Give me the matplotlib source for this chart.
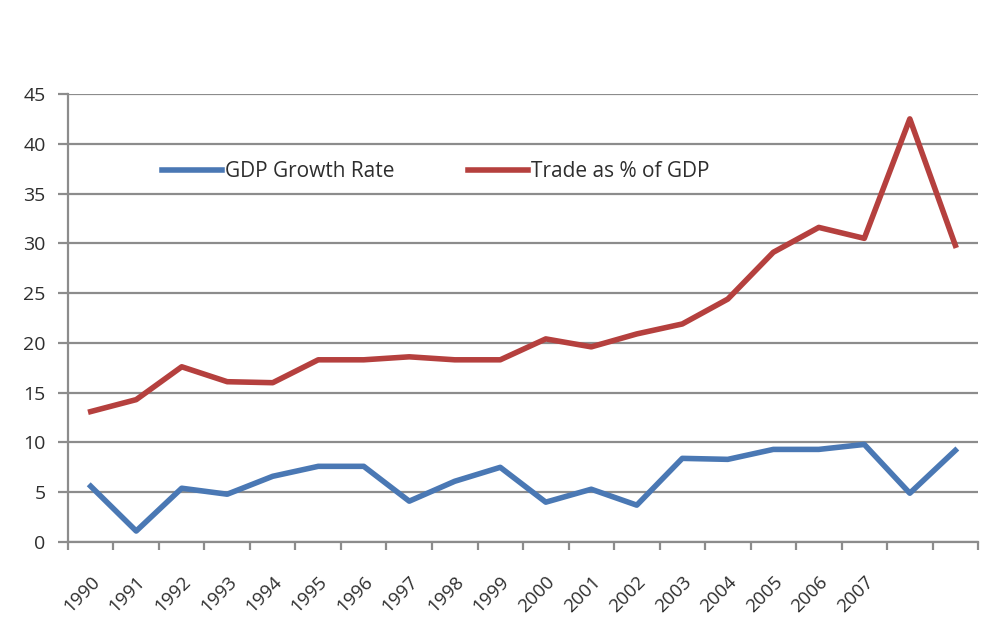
import matplotlib
matplotlib.use('Agg')
import matplotlib.pyplot as plt
import numpy as np

plt.rcParams['font.family'] = ['Open Sans', 'DejaVu Sans']

years = ['1990', '1991', '1992', '1993', '1994', '1995', '1996', '1997', '1998',
         '1999', '2000', '2001', '2002', '2003', '2004', '2005', '2006', '2007']
n_points = 20
gdp_growth = [5.6, 1.1, 5.4, 4.8, 6.6, 7.6, 7.6, 4.1, 6.1, 7.5,
              4.0, 5.3, 3.7, 8.4, 8.3, 9.3, 9.3, 9.8, 4.9, 9.2]
trade_pct = [13.1, 14.3, 17.6, 16.1, 16.0, 18.3, 18.3, 18.6, 18.3, 18.3,
             20.4, 19.6, 20.9, 21.9, 24.4, 29.1, 31.6, 30.5, 42.5, 29.8]

x = np.arange(n_points)
grid_c = '#8c8c8c'
txt_c = '#2e2e2e'

fig = plt.figure(figsize=(9.82, 6.30), dpi=100)
ax = fig.add_axes([0.0692, 0.1397, 0.9268, 0.7111])

ax.plot(x, gdp_growth, color='#4A78B4', lw=4, label='GDP Growth Rate')
ax.plot(x, trade_pct, color='#B5403E', lw=4, label='Trade as % of GDP')

ax.set_ylim(0, 45)
ax.set_xlim(-0.5, n_points - 0.5)
ax.set_yticks(np.arange(0, 46, 5))
ax.yaxis.grid(True, color=grid_c, lw=1.6)
ax.set_axisbelow(True)

# tick marks between categories, year labels under the category centres
ax.set_xticks(np.arange(n_points + 1) - 0.5)
ax.set_xticklabels([])
ax.set_xticks(x[:len(years)], minor=True)
ax.set_xticklabels(years, minor=True, rotation=45, ha='right', va='top',
                   rotation_mode='anchor', fontsize=13.5, color=txt_c)
ax.tick_params(axis='x', which='major', length=6, width=1.6, color=grid_c, direction='out')
ax.tick_params(axis='x', which='minor', length=0, pad=22)
ax.tick_params(axis='y', length=7, width=1.6, color=grid_c, labelsize=14,
               labelcolor=txt_c, pad=9)

for s in ['top', 'right']:
    ax.spines[s].set_visible(False)
for s in ['left', 'bottom']:
    ax.spines[s].set_color(grid_c)
    ax.spines[s].set_linewidth(1.6)

leg = ax.legend(loc='center', bbox_to_anchor=(0.404, 0.826), ncol=2, frameon=False,
                fontsize=15, handlelength=2.9, handletextpad=0.15, columnspacing=3.5)
for t in leg.get_texts():
    t.set_color(txt_c)

fig.savefig('out.png', dpi=100)
